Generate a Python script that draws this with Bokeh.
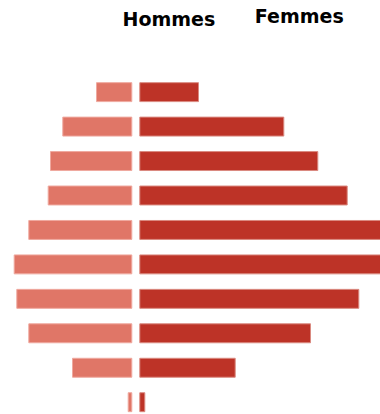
from bokeh.plotting import figure
from bokeh.models import Range1d, ColumnDataSource, Label
from bokeh.embed import file_html
from bokeh.resources import INLINE

# Age groups, listed from top row to bottom row
ages = ["15-24", "25-34", "35-44", "45-54", "55-64", "65-74", "75-84", "85-94", "95-104", "105+"]
hommes = [35.3, 69.0, 81.3, 83.6, 103.0, 117.6, 115.0, 103.0, 59.3, 3.6]
femmes = [58.7, 144.0, 178.0, 207.4, 250.0, 255.0, 219.0, 170.7, 95.4, 5.0]

n = len(ages)
gap = 4.0
ypos = [n - 1 - i for i in range(n)]

src = ColumnDataSource(dict(
    y=ypos,
    h_left=[-gap - v for v in hommes],
    h_right=[-gap] * n,
    f_left=[gap] * n,
    f_right=[gap + v for v in femmes],
))

p = figure(width=380, height=414, output_backend="svg", toolbar_location=None,
           x_range=Range1d(-135.3, 244.7), y_range=Range1d(-0.357, 11.66),
           min_border=0, outline_line_color=None)
p.axis.visible = False
p.grid.visible = False
p.background_fill_color = "white"
p.border_fill_color = "white"

p.hbar(y="y", left="h_left", right="h_right", height=0.55, source=src,
       fill_color="#E07667", line_color="#EFA99F", line_width=1)
p.hbar(y="y", left="f_left", right="f_right", height=0.55, source=src,
       fill_color="#BD3327", line_color="#DA8A80", line_width=1)

p.add_layout(Label(x=122, y=396, x_units="screen", y_units="screen", text="Hommes",
                   text_font="DejaVu Sans", text_font_style="bold", text_font_size="19px",
                   text_color="black", text_baseline="alphabetic"))
p.add_layout(Label(x=254.3, y=398.7, x_units="screen", y_units="screen", text="Femmes",
                   text_font="DejaVu Sans", text_font_style="bold", text_font_size="19px",
                   text_color="black", text_baseline="alphabetic"))

open("out.html", "w").write(file_html(p, INLINE))
